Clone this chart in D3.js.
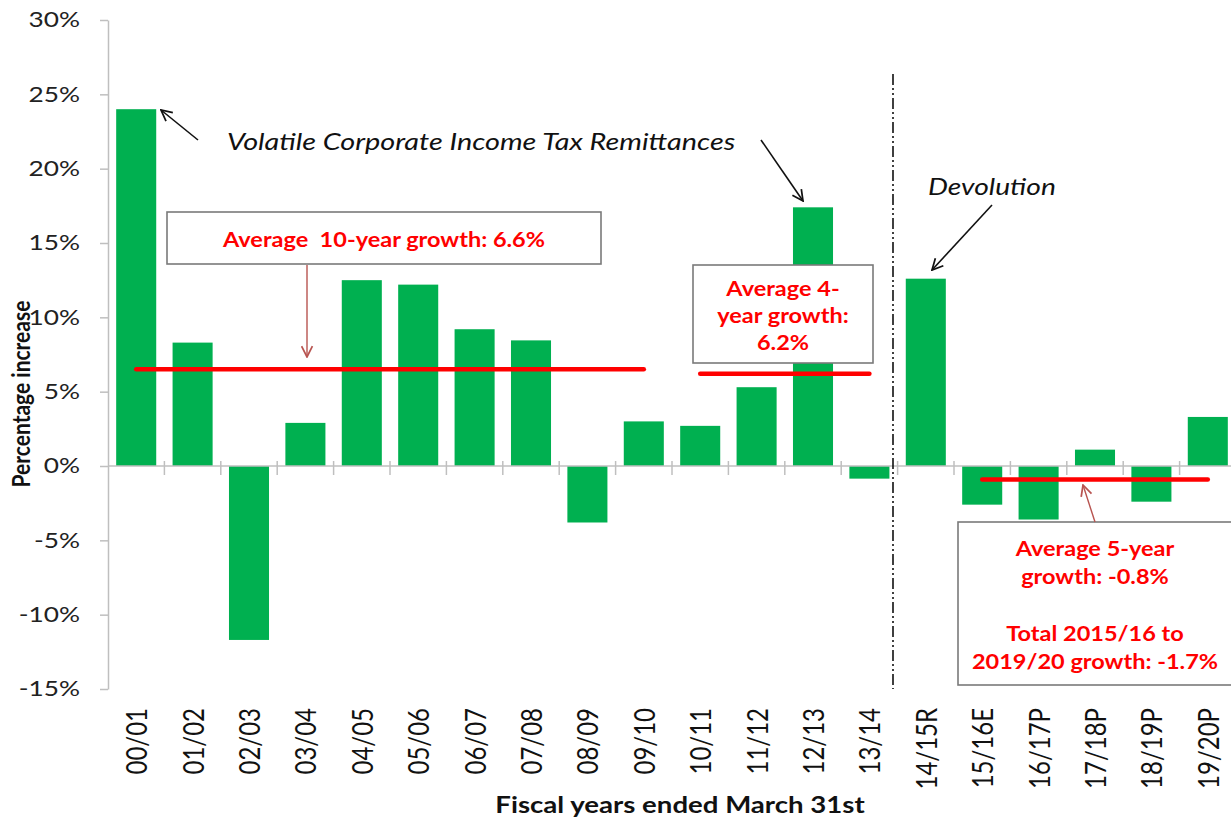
<!DOCTYPE html>
<html>
<head>
<meta charset="utf-8">
<script src="https://cdn.jsdelivr.net/npm/d3@7"></script>
<style>
  body { margin: 0; background: #fff; }
  svg { display: block; }
  text { white-space: pre; }
</style>
</head>
<body>
<div id="chart"></div>
<script>
// data
const categories = ["00/01", "01/02", "02/03", "03/04", "04/05", "05/06", "06/07", "07/08", "08/09", "09/10",
    "10/11", "11/12", "12/13", "13/14", "14/15R", "15/16E", "16/17P", "17/18P", "18/19P", "19/20P"];
const growth = [24.0, 8.3, -11.7, 2.9, 12.5, 12.2, 9.2, 8.45, -3.8, 3.0,
    2.7, 5.3, 17.4, -0.85, 12.6, -2.6, -3.6, 1.1, -2.4, 3.3];
const yTicks = [-15, -10, -5, 0, 5, 10, 15, 20, 25, 30];

// average lines (drawn from first to last category centre)
const avgFrom = ["00/01", "10/11", "15/16E"];
const avgTo = ["09/10", "13/14", "19/20P"];
const avgValue = [6.5, 6.2, -0.9];

// formatting constants
const width = 1231;
const height = 822;
const SX = 1.2;          // horizontal stretch of the source picture's text
const font = "Lato, 'Open Sans', sans-serif";
const green = "#00b050";
const red = "#ff0000";
const axisGray = "#bfbfbf";

const svg = d3.select("#chart")
    .append("svg")
        .attr("width", width)
        .attr("height", height);

const defs = svg.append("defs");
function marker(id, color) {
    defs.append("marker")
        .attr("id", id)
        .attr("viewBox", "0 0 12 12")
        .attr("refX", 11).attr("refY", 6)
        .attr("markerWidth", 13).attr("markerHeight", 13)
        .attr("markerUnits", "userSpaceOnUse")
        .attr("orient", "auto")
        .append("path")
            .attr("d", "M1,1 L11,6 L1,11")
            .attr("fill", "none")
            .attr("stroke", color)
            .attr("stroke-width", 1.6);
}
marker("arrowBlack", "#111");
marker("arrowBrown", "#b85450");

// scales
const x = d3.scaleBand()
    .domain(categories)
    .range([108, 1236])
    .paddingInner(0.29)
    .paddingOuter(0.145);

const y = d3.scaleLinear()
    .domain([-15, 30])
    .range([689, 20]);

// Y-axis
const yAxis = svg.append("g")
    .attr("transform", "translate(108,0)")
    .call(d3.axisLeft(y).tickValues(yTicks).tickSize(8).tickSizeOuter(0).tickFormat(d => d + "%"));
yAxis.select(".domain").attr("stroke", axisGray).attr("stroke-width", 1.5);
yAxis.selectAll(".tick line").attr("stroke", axisGray).attr("stroke-width", 1.5);
yAxis.selectAll(".tick text")
    .attr("x", -28 / 1.25)
    .attr("transform", "scale(1.25,1)")
    .attr("font-family", font)
    .attr("font-size", 21)
    .attr("fill", "#222");

// bars
svg.append("g")
    .selectAll("rect")
    .data(categories.map((c, i) => ({cat: c, value: growth[i]})))
    .join("rect")
        .attr("x", d => x(d.cat))
        .attr("y", d => y(Math.max(0, d.value)))
        .attr("width", x.bandwidth())
        .attr("height", d => Math.abs(y(d.value) - y(0)))
        .attr("fill", green);

// X-axis line at zero and category boundary ticks
const x0 = x.range()[0];
svg.append("line")
    .attr("x1", x0).attr("x2", x.range()[1])
    .attr("y1", y(0)).attr("y2", y(0))
    .attr("stroke", axisGray).attr("stroke-width", 1.5);
svg.append("g")
    .selectAll("line")
    .data(d3.range(1, categories.length))
    .join("line")
        .attr("x1", i => x0 + i * x.step())
        .attr("x2", i => x0 + i * x.step())
        .attr("y1", y(0) - 5)
        .attr("y2", y(0) + 9)
        .attr("stroke", axisGray)
        .attr("stroke-width", 1.5);

// category labels
svg.append("g")
    .selectAll("text")
    .data(categories)
    .join("text")
        .attr("transform", d => `translate(${x(d) + x.bandwidth() / 2},708) rotate(-90) scale(1,${SX})`)
        .attr("dy", "0.38em")
        .attr("text-anchor", "end")
        .attr("font-family", font)
        .attr("font-size", 24)
        .attr("fill", "#111")
        .text(d => d);

// axis titles
function text(str, px, py, opts = {}) {
    return svg.append("text")
        .attr("transform", `translate(${px},${py}) scale(${opts.sx || SX},1)`)
        .attr("text-anchor", opts.anchor || "middle")
        .attr("font-family", font)
        .attr("font-size", opts.size || 20)
        .attr("font-weight", opts.weight || "normal")
        .attr("font-style", opts.style || "normal")
        .attr("fill", opts.fill || "#111")
        .text(str);
}
text("Fiscal years ended March 31st", 680, 813, {weight: "bold", size: 23});
svg.append("text")
    .attr("transform", `translate(30,394) rotate(-90) scale(1,${SX})`)
    .attr("text-anchor", "middle")
    .attr("font-family", font)
    .attr("font-size", 21)
    .attr("font-weight", "bold")
    .attr("fill", "#111")
    .text("Percentage increase");

// devolution divider
svg.append("line")
    .attr("x1", 893).attr("x2", 893)
    .attr("y1", 74).attr("y2", 689)
    .attr("stroke", "#111")
    .attr("stroke-width", 1.6)
    .attr("stroke-dasharray", "11,3,2,3,2,3");

// average lines
svg.append("g")
    .selectAll("line")
    .data(avgValue.map((v, i) => ({from: avgFrom[i], to: avgTo[i], value: v})))
    .join("line")
        .attr("x1", d => x(d.from) + x.bandwidth() / 2)
        .attr("x2", d => x(d.to) + x.bandwidth() / 2)
        .attr("y1", d => y(d.value))
        .attr("y2", d => y(d.value))
        .attr("stroke", red)
        .attr("stroke-width", 4.5)
        .attr("stroke-linecap", "round");

// annotation boxes
function box(x1, y1, x2, y2) {
    svg.append("rect")
        .attr("x", x1).attr("y", y1)
        .attr("width", x2 - x1).attr("height", y2 - y1)
        .attr("fill", "#fff")
        .attr("stroke", "#7a7a7a")
        .attr("stroke-width", 1.6);
}
box(167, 212, 601, 264);
box(693, 265, 873, 363);
box(958, 522, 1245, 685);

const boxText = {weight: "bold", size: 21, fill: red, sx: 1.12};
text("Average  10-year growth: 6.6%", 384, 247, boxText);
text("Average 4-", 783, 296, boxText);
text("year growth:", 783, 323, boxText);
text("6.2%", 783, 350, boxText);
text("Average 5-year", 1095, 556, boxText);
text("growth: -0.8%", 1095, 584, boxText);
text("Total 2015/16 to", 1095, 641, boxText);
text("2019/20 growth: -1.7%", 1095, 669, boxText);

// arrows
function arrow(x1, y1, x2, y2, id, color, w) {
    svg.append("line")
        .attr("x1", x1).attr("y1", y1)
        .attr("x2", x2).attr("y2", y2)
        .attr("stroke", color)
        .attr("stroke-width", w)
        .attr("marker-end", `url(#${id})`);
}
arrow(307, 265, 307, 357, "arrowBrown", "#b85450", 1.4);
arrow(1095, 522, 1083, 485, "arrowBrown", "#b85450", 1.4);
arrow(198, 140, 161, 110, "arrowBlack", "#111", 1.6);
arrow(761, 140, 803, 201, "arrowBlack", "#111", 1.6);
arrow(992, 205, 932, 270, "arrowBlack", "#111", 1.6);

// italic notes
text("Volatile Corporate Income Tax Remittances", 227, 150, {style: "italic", size: 24, anchor: "start"});
text("Devolution", 928, 195, {style: "italic", size: 23.5, anchor: "start"});
</script>
</body>
</html>
